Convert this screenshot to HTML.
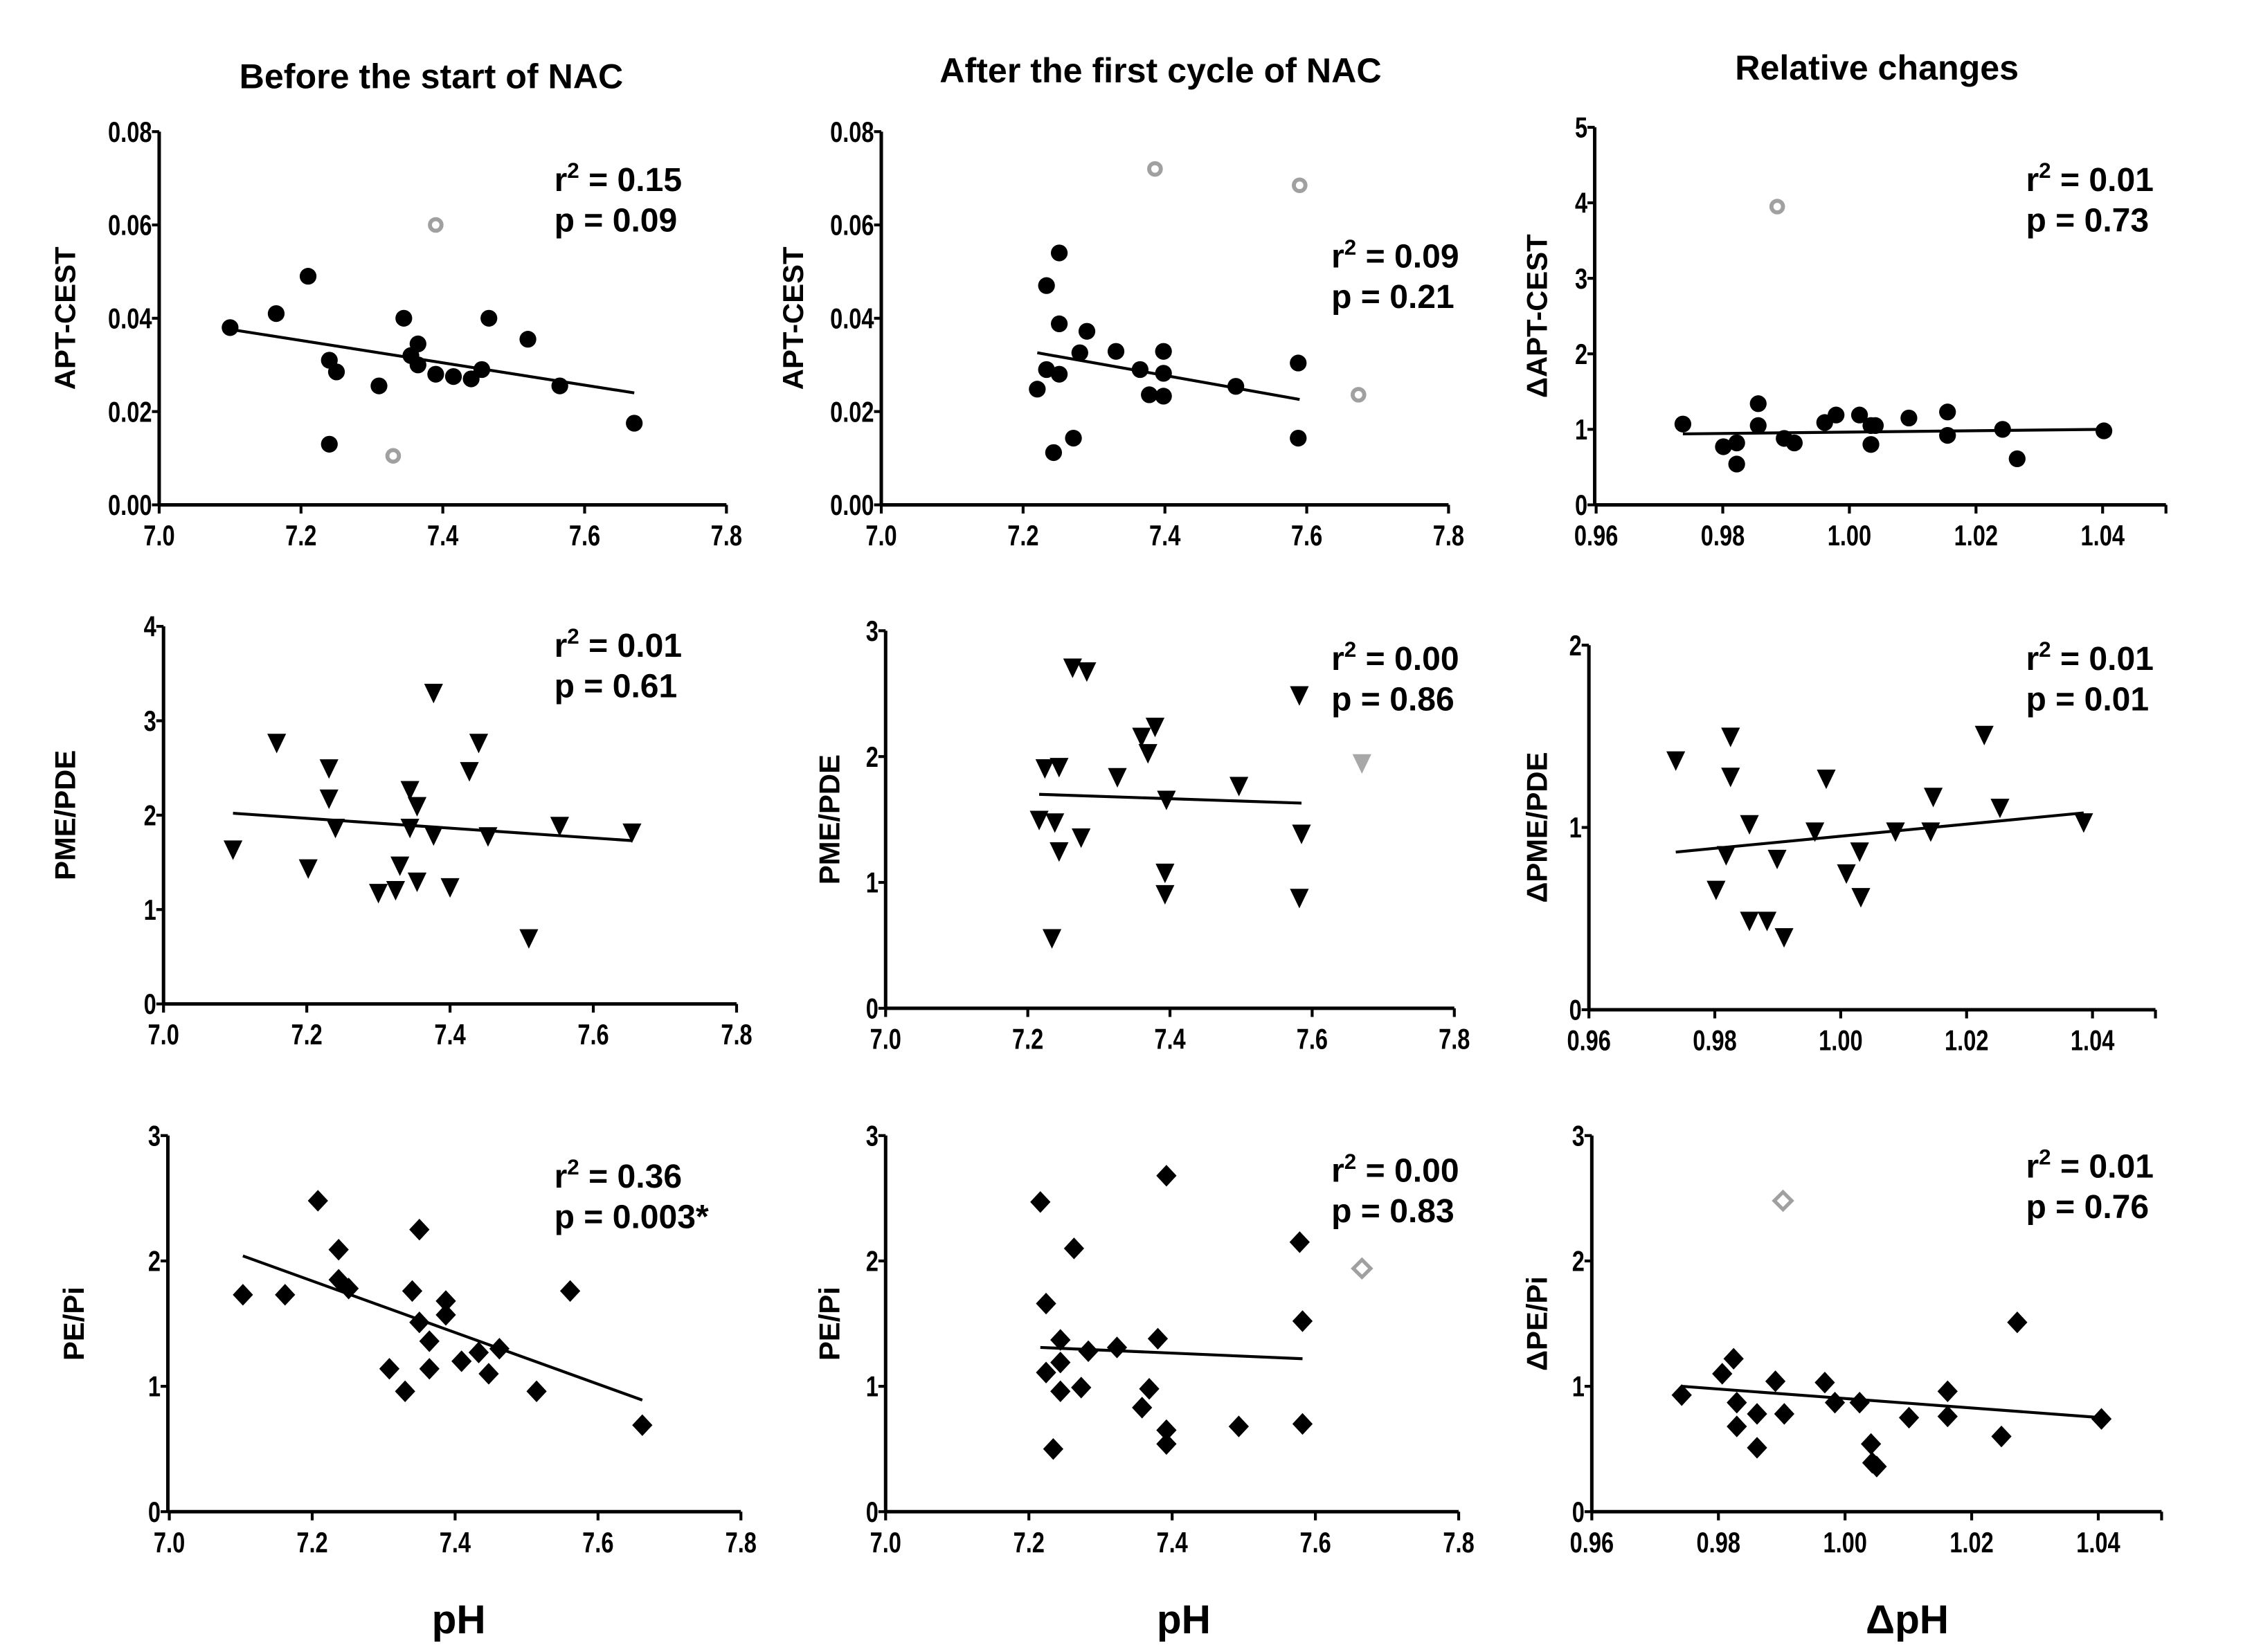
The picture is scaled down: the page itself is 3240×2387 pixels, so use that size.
<!DOCTYPE html>
<html><head><meta charset="utf-8">
<style>
html,body{margin:0;padding:0;background:#fff;}
svg{display:block;}
text{font-family:"Liberation Sans",sans-serif;font-weight:bold;fill:#000;}
</style></head>
<body>
<svg id="fig" width="3240" height="2387" viewBox="0 0 1550 1142" preserveAspectRatio="none" xmlns="http://www.w3.org/2000/svg">
<rect width="1550" height="1142" fill="#fff"/>
<text x="298" y="61" font-size="24" text-anchor="middle">Before the start of NAC</text>
<text x="802" y="57" font-size="24" text-anchor="middle">After the first cycle of NAC</text>
<text x="1297" y="55" font-size="24" text-anchor="middle">Relative changes</text>
<text x="317" y="1129" font-size="28" text-anchor="middle">pH</text>
<text x="818" y="1129" font-size="28" text-anchor="middle">pH</text>
<text x="1318" y="1129" font-size="28" text-anchor="middle">ΔpH</text>
</svg>
<script>
// ---- data ----
const p1X=[7.10,7.165,7.21,7.24,7.25,7.24,7.31,7.345,7.355,7.365,7.365,7.39,7.415,7.44,7.455,7.465,7.52,7.565,7.67];
const p1Y=[0.038,0.041,0.049,0.031,0.0285,0.013,0.0255,0.040,0.032,0.0345,0.030,0.028,0.0275,0.027,0.029,0.040,0.0355,0.0255,0.0175];
const p1GX=[7.39,7.33]; const p1GY=[0.060,0.0105];
const p1Fit=[7.105,0.0375,7.67,0.024];

const p2X=[7.220,7.233,7.251,7.251,7.233,7.251,7.243,7.271,7.280,7.290,7.331,7.365,7.378,7.398,7.398,7.398,7.500,7.588,7.588];
const p2Y=[0.0248,0.047,0.054,0.0388,0.029,0.028,0.0112,0.0143,0.0326,0.0372,0.0329,0.029,0.0236,0.0329,0.0282,0.0233,0.0254,0.0304,0.0143];
const p2GX=[7.386,7.590,7.673]; const p2GY=[0.072,0.0685,0.0236];
const p2Fit=[7.22,0.0326,7.59,0.0226];

const p3X=[0.9737,0.9801,0.9822,0.9822,0.9856,0.9856,0.9897,0.9913,0.9961,0.9979,1.0016,1.0034,1.0041,1.0034,1.0094,1.0155,1.0155,1.0242,1.0265,1.0402];
const p3Y=[1.07,0.77,0.82,0.54,1.34,1.05,0.88,0.82,1.09,1.19,1.19,1.05,1.05,0.80,1.15,1.23,0.92,1.0,0.61,0.98];
const p3GX=[0.9886]; const p3GY=[3.95];
const p3Fit=[0.9737,0.94,1.0402,1.0];

const p4X=[7.097,7.158,7.202,7.231,7.231,7.240,7.300,7.324,7.330,7.344,7.344,7.354,7.354,7.377,7.377,7.400,7.427,7.440,7.453,7.510,7.553,7.654];
const p4Y=[1.64,2.77,1.44,2.5,2.18,1.87,1.18,1.21,1.47,2.27,1.87,2.1,1.3,3.3,1.79,1.24,2.47,2.77,1.78,0.7,1.89,1.82];
const p4Fit=[7.097,2.02,7.654,1.73];

const p5X=[7.216,7.224,7.244,7.238,7.244,7.234,7.263,7.283,7.275,7.326,7.360,7.379,7.369,7.395,7.393,7.393,7.497,7.582,7.585,7.582];
const p5Y=[1.5,1.91,1.92,1.48,1.25,0.56,2.71,2.68,1.36,1.84,2.16,2.24,2.03,1.66,1.08,0.91,1.77,2.49,1.39,0.88];
const p5GX=[7.670]; const p5GY=[1.95];
const p5Fit=[7.216,1.70,7.585,1.63];

const p6X=[0.9738,0.9802,0.9818,0.9825,0.9825,0.9855,0.9855,0.9883,0.9910,0.9899,0.9959,0.9977,1.0009,1.0030,1.0032,1.0087,1.0143,1.0147,1.0228,1.0253,1.0386];
const p6Y=[1.37,0.66,0.85,1.28,1.5,1.02,0.49,0.49,0.4,0.83,0.98,1.27,0.75,0.87,0.62,0.98,0.98,1.17,1.51,1.11,1.03];
const p6Fit=[0.9738,0.865,1.0386,1.08];

const p7X=[7.103,7.162,7.208,7.237,7.237,7.251,7.308,7.330,7.340,7.350,7.350,7.364,7.364,7.387,7.387,7.409,7.433,7.447,7.462,7.514,7.561,7.662];
const p7Y=[1.73,1.73,2.48,2.09,1.85,1.78,1.14,0.96,1.76,2.25,1.51,1.36,1.14,1.68,1.57,1.2,1.27,1.1,1.3,0.96,1.76,0.69];
const p7Fit=[7.103,2.04,7.662,0.89];

const p8X=[7.216,7.224,7.224,7.244,7.244,7.244,7.234,7.263,7.273,7.283,7.323,7.358,7.368,7.380,7.392,7.392,7.392,7.493,7.578,7.582,7.582];
const p8Y=[2.47,1.66,1.11,1.37,1.19,0.96,0.5,2.1,0.99,1.28,1.31,0.83,0.98,1.38,2.68,0.65,0.54,0.68,2.15,1.52,0.70];
const p8GX=[7.665]; const p8GY=[1.94];
const p8Fit=[7.216,1.31,7.582,1.22];

const p9X=[0.9742,0.9806,0.9824,0.9829,0.9829,0.9861,0.9861,0.9890,0.9904,0.9968,0.9984,1.0023,1.0041,1.0043,1.0050,1.0101,1.0162,1.0162,1.0247,1.0272,1.0405];
const p9Y=[0.93,1.1,1.22,0.87,0.68,0.78,0.51,1.04,0.78,1.03,0.87,0.87,0.54,0.39,0.36,0.75,0.76,0.96,0.6,1.51,0.74];
const p9GX=[0.9902]; const p9GY=[2.48];
const p9Fit=[0.9742,1.0,1.0405,0.75];

const phTicks=[7.0,7.2,7.4,7.6,7.8];
const phLabels=["7.0","7.2","7.4","7.6","7.8"];
const dphTicks=[0.96,0.98,1.00,1.02,1.04];
const dphLabels=["0.96","0.98","1.00","1.02","1.04"];
const aptTicks=[0,0.02,0.04,0.06,0.08];
const aptLabels=["0.00","0.02","0.04","0.06","0.08"];
const t5=[0,1,2,3,4,5], t4=[0,1,2,3,4], t3=[0,1,2,3], t2=[0,1,2];

// ---- drawing ----
const NS="http://www.w3.org/2000/svg";
const svg=document.getElementById('fig');
function mk(tag,attrs,parent){const e=document.createElementNS(NS,tag);for(const k in attrs)e.setAttribute(k,attrs[k]);(parent||svg).appendChild(e);return e;}

function panel(cfg){
  const g=mk('g',{});
  
  
  const sx=v=>cfg.px0+(v-cfg.x0)/(cfg.x1-cfg.x0)*(cfg.px1-cfg.px0);
  const sy=v=>cfg.py0-(v-cfg.y0)/(cfg.y1-cfg.y0)*(cfg.py0-cfg.py1);
  const ax=cfg.axX;
  const ya=mk('line',{x1:ax,y1:sy(cfg.y1),x2:ax,y2:cfg.py0,stroke:'#000','stroke-width':2.4},g);
  
  
  const xa=mk('line',{x1:ax,y1:cfg.py0,x2:sx(cfg.xEnd),y2:cfg.py0,stroke:'#000','stroke-width':2.4},g);
  
  
  cfg.yt.forEach((v,i)=>{
    const y=sy(v);
    mk('line',{x1:ax-5,y1:y,x2:ax,y2:y,stroke:'#000','stroke-width':2},g);
    const t=mk('text',{x:0,y:0,'font-size':20,'text-anchor':'end',transform:`translate(${ax-5},${y+7}) scale(0.78,1)`},g);
    t.textContent=cfg.yl?cfg.yl[i]:String(v);
    
    
  });
  cfg.xt.forEach((v,i)=>{
    const x=sx(v);
    mk('line',{x1:x,y1:cfg.py0,x2:x,y2:cfg.py0+6,stroke:'#000','stroke-width':2},g);
    const t=mk('text',{x:0,y:0,'font-size':20,'text-anchor':'middle',transform:`translate(${x},${cfg.py0+28}) scale(0.78,1)`},g);
    t.textContent=cfg.xl[i];
    
    
  });
  if(cfg.xEnd>cfg.xt[cfg.xt.length-1]+1e-9){
    const x=sx(cfg.xEnd);
    mk('line',{x1:x,y1:cfg.py0,x2:x,y2:cfg.py0+6,stroke:'#000','stroke-width':2},g);
  }
  const cy=(cfg.py0+sy(cfg.y1))/2;
  const yt=mk('text',{x:cfg.titleX,y:cy,'font-size':20,'text-anchor':'middle',transform:`rotate(-90 ${cfg.titleX} ${cy})`},g);
  yt.textContent=cfg.ytitle;
  
  
  const f=cfg.fit;
  const fl=mk('line',{x1:sx(f[0]),y1:sy(f[1]),x2:sx(f[2]),y2:sy(f[3]),stroke:'#000','stroke-width':2},g);
  
  
  function marker(x,y,gray){
    let e;
    if(cfg.shape==='circle'){
      e=gray?mk('circle',{cx:x,cy:y,r:4,fill:'#fff',stroke:'#a0a0a0','stroke-width':2.8},g)
            :mk('circle',{cx:x,cy:y,r:5.8,fill:'#000'},g);
    }else if(cfg.shape==='tri'){
      e=mk('polygon',{points:`${x-6.5},${y-6} ${x+6.5},${y-6} ${x},${y+7.5}`,fill:gray?'#a8a8a8':'#000'},g);
    }else{
      e=gray?mk('polygon',{points:`${x},${y-6} ${x+6},${y} ${x},${y+6} ${x-6},${y}`,fill:'#fff',stroke:'#a0a0a0','stroke-width':2.5},g)
            :mk('polygon',{points:`${x},${y-7.5} ${x+7},${y} ${x},${y+7.5} ${x-7},${y}`,fill:'#000'},g);
    }
    return e;
  }
  cfg.xs.forEach((v,i)=>{
    const m=marker(sx(v),sy(cfg.ys[i]),false);
    
    
  });
  (cfg.gx||[]).forEach((v,i)=>{
    const m=marker(sx(v),sy(cfg.gy[i]),true);
    
    
  });
  const r=mk('text',{x:cfg.sx,y:cfg.sy,'font-size':23},g);
  r.innerHTML=`r<tspan dy="-9" font-size="15">2</tspan><tspan dy="9"> = ${cfg.r2}</tspan>`;
  
  
  const p=mk('text',{x:cfg.sx,y:cfg.sy+28,'font-size':23},g);
  p.textContent='p = '+cfg.p;
  
  
}

panel({name:'panel-apt-before',px0:110,px1:502,x0:7.0,x1:7.8,xEnd:7.8,py0:349,py1:91,y0:0,y1:0.08,axX:110,yt:aptTicks,yl:aptLabels,xt:phTicks,xl:phLabels,titleX:52,ytitle:'APT-CEST',shape:'circle',xs:p1X,ys:p1Y,gx:p1GX,gy:p1GY,fit:p1Fit,sx:383,sy:132,r2:'0.15',p:'0.09'});
panel({name:'panel-apt-after',px0:609,px1:1001,x0:7.0,x1:7.8,xEnd:7.8,py0:349,py1:91,y0:0,y1:0.08,axX:609,yt:aptTicks,yl:aptLabels,xt:phTicks,xl:phLabels,titleX:555,ytitle:'APT-CEST',shape:'circle',xs:p2X,ys:p2Y,gx:p2GX,gy:p2GY,fit:p2Fit,sx:920,sy:185,r2:'0.09',p:'0.21'});
panel({name:'panel-apt-relative',px0:1103,px1:1453,x0:0.96,x1:1.04,xEnd:1.05,py0:349,py1:88,y0:0,y1:5,axX:1102,yt:t5,xt:dphTicks,xl:dphLabels,titleX:1069,ytitle:'ΔAPT-CEST',shape:'circle',xs:p3X,ys:p3Y,gx:p3GX,gy:p3GY,fit:p3Fit,sx:1400,sy:132,r2:'0.01',p:'0.73'});
panel({name:'panel-pme-before',px0:113,px1:509,x0:7.0,x1:7.8,xEnd:7.8,py0:694,py1:433,y0:0,y1:4,axX:113,yt:t4,xt:phTicks,xl:phLabels,titleX:52,ytitle:'PME/PDE',shape:'tri',xs:p4X,ys:p4Y,fit:p4Fit,sx:383,sy:454,r2:'0.01',p:'0.61'});
panel({name:'panel-pme-after',px0:612,px1:1005,x0:7.0,x1:7.8,xEnd:7.8,py0:697,py1:436,y0:0,y1:3,axX:612,yt:t3,xt:phTicks,xl:phLabels,titleX:580,ytitle:'PME/PDE',shape:'tri',xs:p5X,ys:p5Y,gx:p5GX,gy:p5GY,fit:p5Fit,sx:920,sy:463,r2:'0.00',p:'0.86'});
panel({name:'panel-pme-relative',px0:1098,px1:1446,x0:0.96,x1:1.04,xEnd:1.05,py0:698,py1:446,y0:0,y1:2,axX:1098,yt:t2,xt:dphTicks,xl:dphLabels,titleX:1069,ytitle:'ΔPME/PDE',shape:'tri',xs:p6X,ys:p6Y,fit:p6Fit,sx:1400,sy:463,r2:'0.01',p:'0.01'});
panel({name:'panel-pe-before',px0:117,px1:512,x0:7.0,x1:7.8,xEnd:7.8,py0:1045,py1:785,y0:0,y1:3,axX:116,yt:t3,xt:phTicks,xl:phLabels,titleX:58,ytitle:'PE/Pi',shape:'diamond',xs:p7X,ys:p7Y,fit:p7Fit,sx:383,sy:821,r2:'0.36',p:'0.003*'});
panel({name:'panel-pe-after',px0:612,px1:1008,x0:7.0,x1:7.8,xEnd:7.8,py0:1045,py1:785,y0:0,y1:3,axX:612,yt:t3,xt:phTicks,xl:phLabels,titleX:580,ytitle:'PE/Pi',shape:'diamond',xs:p8X,ys:p8Y,gx:p8GX,gy:p8GY,fit:p8Fit,sx:920,sy:817,r2:'0.00',p:'0.83'});
panel({name:'panel-pe-relative',px0:1100,px1:1450,x0:0.96,x1:1.04,xEnd:1.05,py0:1045,py1:785,y0:0,y1:3,axX:1100,yt:t3,xt:dphTicks,xl:dphLabels,titleX:1069,ytitle:'ΔPE/Pi',shape:'diamond',xs:p9X,ys:p9Y,gx:p9GX,gy:p9GY,fit:p9Fit,sx:1400,sy:814,r2:'0.01',p:'0.76'});
</script>
</body></html>
